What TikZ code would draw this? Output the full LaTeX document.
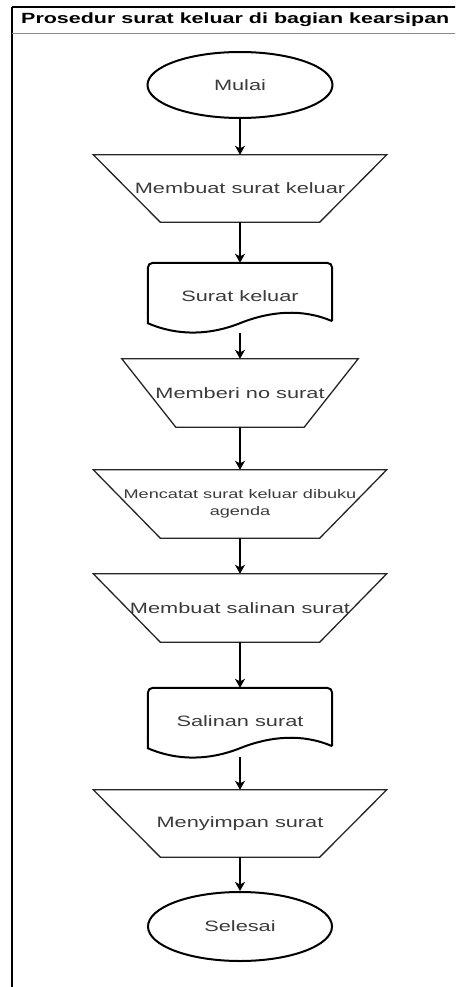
\documentclass[tikz,border=0pt]{standalone}
\usepackage{fontspec}
\setmainfont[FakeStretch=1.45]{Liberation Sans}
\usetikzlibrary{shapes.geometric,arrows.meta,calc}
\definecolor{txtgray}{HTML}{3B3B3B}
\definecolor{rulegray}{HTML}{8A8A8A}

\begin{document}
\begin{tikzpicture}[x=1pt,y=-1pt,
        terminal/.style={ellipse, draw, line width=2pt, minimum width=185pt, minimum height=66pt,
            text=txtgray, font=\fontsize{15}{18}\selectfont},
        trapbox/.style={minimum width=293pt, minimum height=67pt, inner sep=0pt,
            text=txtgray, font=\fontsize{15}{18}\selectfont},
        docbox/.style={minimum width=184pt, minimum height=66pt, inner sep=0pt,
            text=txtgray, font=\fontsize{15}{18}\selectfont},
        flow/.style={-{Stealth[length=9pt,width=10pt,inset=2.5pt]}, line width=1.4pt}]
        \clip (0,0) rectangle (455,987);
        \fill[white] (0,0) rectangle (455,987);

        % lane frame and title
        \draw[line width=1.2pt] (12,7) -- (470,7);
        \draw[line width=2pt] (12,7) -- (12,1000);
        \draw[rulegray, line width=0.8pt] (12,33) -- (470,33);
        \node[anchor=west, inner sep=0pt, font=\bfseries\fontsize{14.8}{18}\selectfont] (title) at (21,20) {Prosedur surat keluar di bagian kearsipan};

        % steps
        \node[terminal] (mulai) at (240,85) {Mulai};
        \node[trapbox] (buat) at (240,188.5) {Membuat surat keluar};
        \node[docbox] (srt) at (240,296) {Surat keluar};
        \node[trapbox, minimum width=236pt, minimum height=68pt] (nomor) at (240,393) {Memberi no surat};
        \node[trapbox, minimum height=68pt, align=center, font=\fontsize{12.5}{17}\selectfont] (catat) at (240,504) {Mencatat surat keluar dibuku\\agenda};
        \node[trapbox, minimum height=68pt] (salin) at (240,608) {Membuat salinan surat};
        \node[docbox] (sln) at (240,721) {Salinan surat};
        \node[trapbox] (simpan) at (240,823.5) {Menyimpan surat};
        \node[terminal, minimum width=184pt, minimum height=69pt] (selesai) at (240,926.5) {Selesai};

        % manual operation outlines
        \foreach \n/\o in {buat/67, nomor/54, catat/67, salin/67, simpan/67}
            \draw[line width=1.3pt, black!85] (\n.north west) -- (\n.north east) -- ($(\n.south east)+(-\o,0)$) -- ($(\n.south west)+(\o,0)$) -- cycle;

        % document outlines
        \foreach \n in {srt, sln} {
            \draw[line width=2pt, rounded corners=5pt] ($(\n.south east)+(0,-8)$) -- (\n.north east) -- (\n.north west) -- ($(\n.south west)+(0,-16)$);
            \draw[line width=2pt] ($(\n.south west)+(0,-17)$) -- ($(\n.south west)+(0,-6)$)
                .. controls +(30,13) and +(-30,12) .. ($(\n.south)+(0,-6)$)
                .. controls +(30,-12) and +(-30,-13) .. ($(\n.south east)+(0,-8)$);
        }

        % connectors
        \foreach \a/\b/\s in {mulai/buat/0, buat/srt/0, srt/nomor/4, nomor/catat/0, catat/salin/0, salin/sln/0, sln/simpan/3, simpan/selesai/0}
            \draw[flow, shorten <=\s pt] (\a) -- (\b);
    \end{tikzpicture}
\end{document}
